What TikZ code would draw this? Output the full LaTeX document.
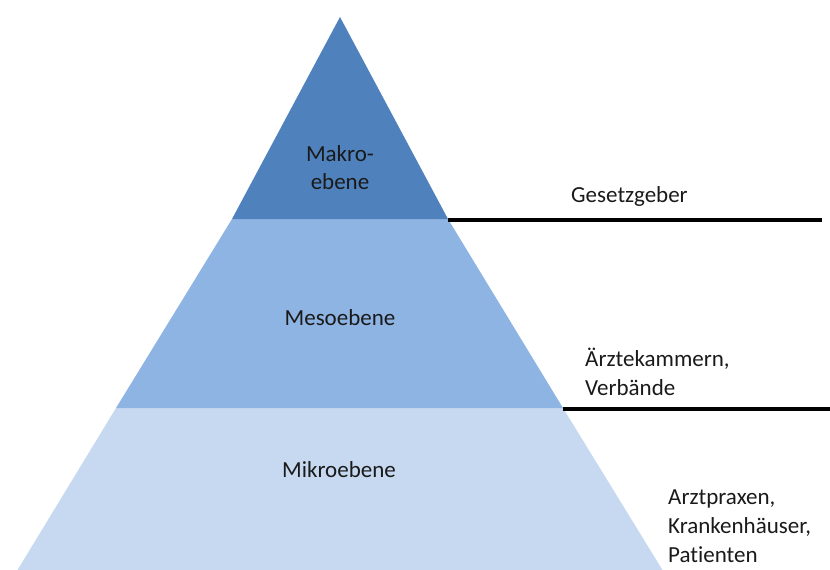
\documentclass[tikz,border=0pt]{standalone}
\usepackage{fontspec}
\setmainfont[Ligatures=NoCommon]{Carlito}
\definecolor{makro}{HTML}{4F81BD}
\definecolor{meso}{HTML}{8EB4E3}
\definecolor{mikro}{HTML}{C6D9F1}
\definecolor{txt}{HTML}{1A1A1A}
\tikzset{
  band/.style={draw=none},
  level/.style={font=\fontsize{23}{28}\selectfont, text=txt, inner sep=0pt, align=center},
  actor/.style={font=\fontsize{23}{29}\selectfont, text=txt, inner sep=0pt, align=left, anchor=north west},
  divider/.style={line width=3.5pt, black}
}
\begin{document}
\begin{tikzpicture}[x=1pt,y=-1pt]
  \useasboundingbox (0,0) rectangle (830,570);

  % corners of the pyramid bands
  \coordinate (apex) at (340,17);
  \coordinate (t1l) at (232,219);
  \coordinate (t1r) at (448,219);
  \coordinate (t2l) at (116,408);
  \coordinate (t2r) at (563,408);
  \coordinate (bl)  at (17.5,570);
  \coordinate (br)  at (662.5,570);

  % bands, bottom to top
  \fill[mikro, band] (t2l) -- (t2r) -- (br) -- (bl) -- cycle;
  \fill[meso, band]  (t1l) -- (t1r) -- (t2r) -- (t2l) -- cycle;
  \fill[makro, band] (apex) -- (t1r) -- (t1l) -- cycle;

  % level names
  \node[level] (makro) at (340,168) {Makro-\\ebene};
  \node[level] (meso)  at (340,318) {Mesoebene};
  \node[level] (mikro) at (339,470) {Mikroebene};

  % divider lines to the right
  \coordinate (d1a) at (448,220);
  \coordinate (d1b) at (822,220);
  \coordinate (d2a) at (563,409);
  \coordinate (d2b) at (830,409);
  \draw[divider] (d1a) -- (d1b);
  \draw[divider] (d2a) -- (d2b);

  % actors of each level
  \node[actor] (gesetz) at (571,186) {Gesetzgeber};
  \node[actor] (kammer) at (585,348) {Ärztekammern,\\Verbände};
  \node[actor] (praxen) at (668,490) {Arztpraxen,\\Krankenhäuser,\\Patienten};
\end{tikzpicture}
\end{document}
